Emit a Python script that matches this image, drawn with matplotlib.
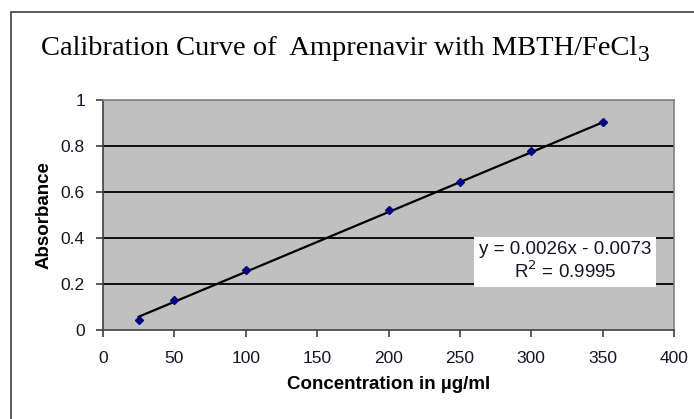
import matplotlib.pyplot as plt
from matplotlib.patches import Rectangle

# concentration (ug/ml) and absorbance readings
conc = [25, 50, 100, 200, 250, 300, 350]
absorb = [0.042, 0.13, 0.26, 0.52, 0.645, 0.78, 0.905]
slope = 0.0026
intercept = -0.0073
r2 = 0.9995

xticks = [0, 50, 100, 150, 200, 250, 300, 350, 400]
yticks = [0, 0.2, 0.4, 0.6, 0.8, 1]

plt.rcParams['font.family'] = ['Liberation Sans', 'DejaVu Sans']

fig = plt.figure(figsize=(6.94, 4.19), dpi=100)
fig.patch.set_facecolor('white')

# outer chart border
fig.patches.append(Rectangle((11 / 694, -0.1), 1.1, 1 - 12 / 419 + 0.1,
                             transform=fig.transFigure, fill=False,
                             edgecolor='#404040', linewidth=1.2))

ax = fig.add_axes([103 / 694, 89 / 419, 571 / 694, 230 / 419])
ax.set_facecolor('#c0c0c0')
for s in ax.spines.values():
    s.set_color('#808080')
    s.set_linewidth(1.2)
ax.spines['left'].set_color('#404040')
ax.spines['bottom'].set_color('#404040')

ax.set_xlim(0, 400)
ax.set_ylim(0, 1)
ax.set_xticks(xticks)
ax.set_yticks(yticks)
ax.set_yticklabels(['0', '0.2', '0.4', '0.6', '0.8', '1'])
for y in yticks[1:-1]:
    ax.axhline(y, color='black', linewidth=1.3, zorder=1)
ax.tick_params(direction='out', length=5, width=1.2, color='#404040',
               labelsize=12.5, labelcolor='#141428', pad=8)
ax.tick_params(axis='x', pad=10)

fit_x = [conc[0], conc[-1]]
fit_y = [slope * x + intercept for x in fit_x]
ax.plot(fit_x, fit_y, color='black', linewidth=1.6, zorder=2)
ax.plot(conc, absorb, linestyle='none', marker='D', markersize=4.5,
        color='#000080', zorder=3)

ax.set_xlabel('Concentration in µg/ml', fontsize=13.5, fontweight='bold', labelpad=7)
ax.set_ylabel('Absorbance', fontsize=13.5, fontweight='bold', labelpad=6)

ax.text(0.809, 0.296, 'y = %.4fx - %.4f\nR$^2$ = %.4f' % (slope, -intercept, r2),
        transform=ax.transAxes, ha='center', va='center', fontsize=13.5,
        color='#141428', linespacing=1.15, zorder=4,
        bbox=dict(boxstyle='square,pad=0.25', facecolor='white', edgecolor='none'))

# title, with a large low subscript 3 placed after it
title = fig.text(0.488, 0.885, 'Calibration Curve of  Amprenavir with MBTH/FeCl',
                 ha='center', va='center', fontsize=20.5, family='Liberation Serif')
fig.add_artist(plt.Annotation('3', xy=(1, 0), xycoords=title,
                              xytext=(1, -4), textcoords='offset points',
                              fontsize=17, family='Liberation Serif',
                              ha='left', va='bottom'))

fig.savefig('out.png', dpi=100)
